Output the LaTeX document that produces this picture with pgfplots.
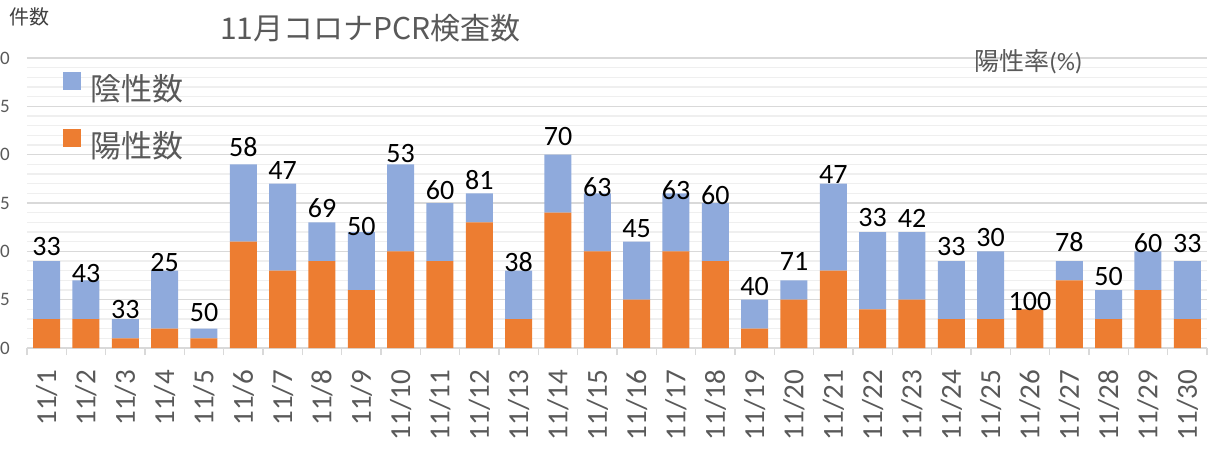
\documentclass[border=0pt]{standalone}
\usepackage{fontspec}
\setmainfont{Carlito}
\newfontfamily\cjk{Noto Sans CJK JP}
\usepackage{pgfplots}
\usepackage{pgfplotstable}
\pgfplotsset{compat=1.18}
\definecolor{pos}{HTML}{ED7D31}
\definecolor{neg}{HTML}{8FAADC}
\definecolor{txt}{HTML}{595959}
\definecolor{majg}{HTML}{D9D9D9}
\definecolor{ming}{HTML}{EFEFEF}

\pgfplotstableread{
x pos neg lab ly
0 3 6 33 10.55
1 3 4 43 7.71
2 1 2 33 4.03
3 2 6 25 8.84
4 1 1 50 3.72
5 11 8 58 20.79
6 8 9 47 18.41
7 9 4 69 14.48
8 6 6 50 12.52
9 10 9 53 20.17
10 9 6 60 16.34
11 13 3 81 17.38
12 3 5 38 8.90
13 14 6 70 21.83
14 10 6 63 16.65
15 5 6 45 12.31
16 10 6 63 16.34
17 9 6 60 15.83
18 2 3 40 6.41
19 5 2 71 8.90
20 8 9 47 17.90
21 4 8 33 13.45
22 5 7 42 13.45
23 3 6 33 10.45
24 3 7 30 11.38
25 4 0 100 4.79
26 7 2 78 10.97
27 3 3 50 7.38
28 6 4 60 10.86
29 3 6 33 10.86
}\data

\begin{document}
\begin{tikzpicture}[x=1pt,y=1pt]
\begin{axis}[
  at={(0,0)}, anchor=south west,
  scale only axis, width=1180pt, height=290pt,
  ybar stacked, bar width=27pt,
  xmin=-0.5, xmax=29.5, ymin=0, ymax=30,
  xtick=data,
  xticklabels={11/1,11/2,11/3,11/4,11/5,11/6,11/7,11/8,11/9,11/10,11/11,11/12,11/13,11/14,11/15,11/16,11/17,11/18,11/19,11/20,11/21,11/22,11/23,11/24,11/25,11/26,11/27,11/28,11/29,11/30},
  minor xtick={-0.5,0.5,...,29.5},
  ytick={0,5,...,30},
  minor ytick={1,2,3,4,6,7,8,9,11,12,13,14,16,17,18,19,21,22,23,24,26,27,28,29},
  ymajorgrids, yminorgrids,
  major grid style={majg, line width=1.5pt},
  minor grid style={ming, line width=1.5pt},
  axis lines*=left,
  x axis line style={majg, line width=1.5pt},
  y axis line style={draw=none},
  tick align=outside,
  major tick length=0pt, minor tick length=7pt,
  minor x tick style={majg, line width=1.5pt},
  ytick style={draw=none},
  /pgf/number format/assume math mode=true,
  xticklabel style={rotate=90, anchor=east, inner sep=0pt, font=\fontsize{29}{29}\selectfont, text=txt},
  xticklabel shift=22pt,
  yticklabel style={anchor=east, inner sep=0pt, font=\fontsize{19}{19}\selectfont, text=txt},
  yticklabel shift=17pt,
  reverse legend,
  legend cell align=left,
  legend style={at={(0.0305,0.9517)}, anchor=north west, draw=none, fill=none, inner sep=0pt,
    row sep=27pt, column sep=9pt, font=\cjk\fontsize{31}{31}\selectfont, text=txt, nodes={inner sep=0pt}},
  legend image code/.code={\fill[#1] (0pt,-2pt) rectangle (18pt,16pt);},
]
\addplot[fill=pos, draw=none] table[x=x,y=pos]{\data};
\addlegendentry{陽性数}
\addplot[fill=neg, draw=none] table[x=x,y=neg]{\data};
\addlegendentry{陰性数}
\end{axis}
\begin{axis}[
  at={(0,0)}, anchor=south west,
  scale only axis, width=1180pt, height=290pt,
  xmin=-0.5, xmax=29.5, ymin=0, ymax=30,
  hide axis, clip=false]
\addplot[draw=none, mark=none,
  nodes near coords, point meta=explicit symbolic,
  nodes near coords style={anchor=center, inner sep=0pt, font=\fontsize{28}{28}\selectfont, text=black}]
  table[x=x, y=ly, meta=lab]{\data};
\end{axis}
\node[anchor=center, text=txt, font=\cjk\fontsize{30}{30}\selectfont] at (343.5,320) {11月コロナPCR検査数};
\node[anchor=center, text=black!75, font=\cjk\fontsize{20}{20}\selectfont] at (3,331.5) {件数};
\node[anchor=center, text=txt, font=\fontsize{25}{25}\selectfont] at (1001.5,286.5) {{\cjk 陽性率}(\%)};
\pgfresetboundingbox
\path[use as bounding box] (-27,-102) rectangle (1190,348);
\end{tikzpicture}
\end{document}
